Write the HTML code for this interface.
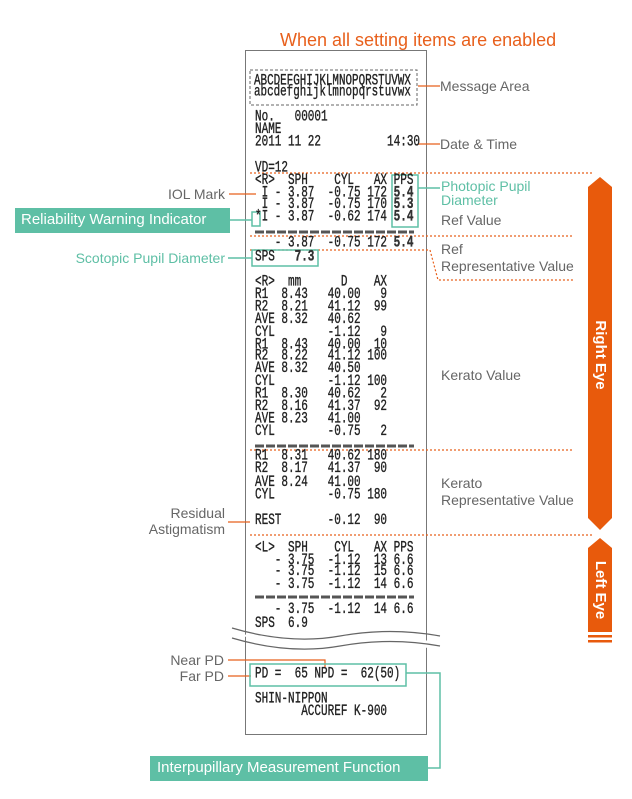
<!DOCTYPE html>
<html><head><meta charset="utf-8"><style>
body{margin:0;background:#fff;}
#p{position:relative;width:632px;height:799px;overflow:hidden;font-family:"Liberation Sans",sans-serif;}
.t{position:absolute;font-family:"Liberation Mono",monospace;font-size:11px;color:#222;white-space:pre;transform:scaleY(1.4);transform-origin:0 0;-webkit-text-stroke:0.25px #222;}
.l{position:absolute;font-size:14px;color:#666;white-space:nowrap;line-height:16px;}
.g{color:#5ebfa5;}
.r{text-align:right;}
b{font-weight:bold;color:#333;}
</style></head><body><div id="p">
<div class="l" style="left:280px;top:29px;font-size:18px;color:#e8601c;line-height:22px">When all setting items are enabled</div>

<div style="position:absolute;left:245px;top:50px;width:182px;height:685px;border:1.5px solid #777;box-sizing:border-box"></div>

<svg width="632" height="799" style="position:absolute;left:0;top:0">
<rect x="250" y="70" width="167" height="35" fill="none" stroke="#666" stroke-dasharray="3,2"/>
<g stroke="#e8601c" stroke-width="1.2" stroke-dasharray="2,2" fill="none">
<line x1="250" y1="173" x2="593" y2="173"/>
<line x1="250" y1="236" x2="573" y2="236"/>
<polyline points="250,250 430,250 438,280 573,280"/>
<line x1="250" y1="450" x2="573" y2="450"/>
<line x1="250" y1="535" x2="593" y2="535"/>
</g>
<g stroke="#555" stroke-width="3" stroke-dasharray="9,2">
<line x1="255" y1="232" x2="414" y2="232"/>
<line x1="255" y1="446" x2="414" y2="446"/>
<line x1="255" y1="597" x2="414" y2="597"/>
</g>
<g stroke="#e8601c" stroke-width="1.2" fill="none">
<line x1="418" y1="86" x2="440" y2="86"/>
<line x1="418" y1="144" x2="440" y2="144"/>
<line x1="229" y1="194" x2="256" y2="194"/>
<line x1="228" y1="522" x2="250" y2="522"/>
<polyline points="228,660 325,660 325,667"/>
<line x1="228" y1="676" x2="251" y2="676"/>
</g>
<g stroke="#5ebfa5" stroke-width="1.5" fill="none">
<rect x="392" y="175" width="26" height="52"/>
<line x1="418" y1="188" x2="440" y2="188"/>
<rect x="252" y="212" width="8" height="14"/>
<line x1="230" y1="220" x2="252" y2="220"/>
<rect x="252" y="250" width="66" height="16"/>
<line x1="228" y1="258" x2="252" y2="258"/>
<rect x="250" y="664" width="156" height="22"/>
<polyline points="406,673 440,673 440,768 428,768"/>
</g>
<rect x="15" y="208" width="215" height="25" fill="#5ebfa5"/>
<rect x="150" y="756" width="278" height="25" fill="#5ebfa5"/>
<path d="M232,640 Q300,622 340,640 T440,636 L440,646 Q400,652 340,650 T232,630 Z" fill="#fff"/>
<path d="M232,628 Q290,645 340,636 T440,636" stroke="#666" stroke-width="1.2" fill="none"/>
<path d="M232,638 Q290,655 340,646 T440,646" stroke="#666" stroke-width="1.2" fill="none"/>
<polygon points="588,187 600,177 612,187 612,518 600,530 588,518" fill="#e85a0c"/>
<polygon points="588,548 600,538 612,548 612,632 588,632" fill="#e85a0c"/>
<rect x="588" y="635" width="24" height="2.5" fill="#e85a0c"/>
<rect x="588" y="640" width="24" height="2.5" fill="#e85a0c"/>
<text x="600" y="355" fill="#fff" font-size="15" font-weight="bold" font-family="Liberation Sans" text-anchor="middle" transform="rotate(90 600 355)" dominant-baseline="middle">Right Eye</text>
<text x="600" y="590" fill="#fff" font-size="15" font-weight="bold" font-family="Liberation Sans" text-anchor="middle" transform="rotate(90 600 590)" dominant-baseline="middle">Left Eye</text>
</svg>

<div class="t" style="left:254px;top:76px;font-size:10.9px;line-height:8.23px">ABCDEFGHIJKLMNOPQRSTUVWX
abcdefghijklmnopqrstuvwx</div>
<div class="t" style="left:255px;top:112px;line-height:8.91px">No.   00001
NAME
2011 11 22          14:30</div>
<div class="t" style="left:255px;top:163px;line-height:8.79px">VD=12
&lt;R&gt;  SPH    CYL   AX PPS
 I - 3.87  -0.75 172 <b>5.4</b>
 I - 3.87  -0.75 170 <b>5.3</b>
*I - 3.87  -0.62 174 <b>5.4</b></div>
<div class="t" style="left:255px;top:238px;line-height:8.57px">   - 3.87  -0.75 172 <b>5.4</b></div>
<div class="t" style="left:255px;top:252px;line-height:8.57px">SPS   <b>7.3</b></div>
<div class="t" style="left:255px;top:277px;line-height:8.91px">&lt;R&gt;  mm      D    AX
R1  8.43   40.00   9
R2  8.21   41.12  99
AVE 8.32   40.62
CYL        -1.12   9
R1  8.43   40.00  10
R2  8.22   41.12 100
AVE 8.32   40.50
CYL        -1.12 100
R1  8.30   40.62   2
R2  8.16   41.37  92
AVE 8.23   41.00
CYL        -0.75   2</div>
<div class="t" style="left:255px;top:451px;line-height:9.26px">R1  8.31   40.62 180
R2  8.17   41.37  90
AVE 8.24   41.00
CYL        -0.75 180

REST       -0.12  90</div>
<div class="t" style="left:255px;top:543px;line-height:8.57px">&lt;L&gt;  SPH    CYL   AX PPS
   - 3.75  -1.12  13 6.6
   - 3.75  -1.12  15 6.6
   - 3.75  -1.12  14 6.6</div>
<div class="t" style="left:255px;top:603px;line-height:10px">   - 3.75  -1.12  14 6.6
SPS  6.9</div>
<div class="t" style="left:255px;top:669px;line-height:8.57px">PD =  65 NPD =  62(50)</div>
<div class="t" style="left:255px;top:694px;line-height:8.57px">SHIN-NIPPON
       ACCUREF K-900</div>

<div class="l" style="left:440px;top:78px">Message Area</div>
<div class="l" style="left:440px;top:136px">Date &amp; Time</div>
<div class="l g" style="left:441px;top:179px;line-height:14px">Photopic Pupil<br>Diameter</div>
<div class="l" style="left:441px;top:212px">Ref Value</div>
<div class="l" style="left:441px;top:241px;line-height:17px">Ref<br>Representative Value</div>
<div class="l" style="left:441px;top:367px">Kerato Value</div>
<div class="l" style="left:441px;top:475px;line-height:17px">Kerato<br>Representative Value</div>
<div class="l r" style="right:407px;top:186px">IOL Mark</div>
<div class="l" style="left:21px;top:212px;color:#fff;font-size:15px">Reliability Warning Indicator</div>
<div class="l r g" style="right:407px;top:250px">Scotopic Pupil Diameter</div>
<div class="l r" style="right:407px;top:505px;line-height:16px">Residual<br>Astigmatism</div>
<div class="l r" style="right:408px;top:652px">Near PD</div>
<div class="l r" style="right:408px;top:668px">Far PD</div>
<div class="l" style="left:157px;top:760px;color:#fff;font-size:15px">Interpupillary Measurement Function</div>
</div></body></html>
